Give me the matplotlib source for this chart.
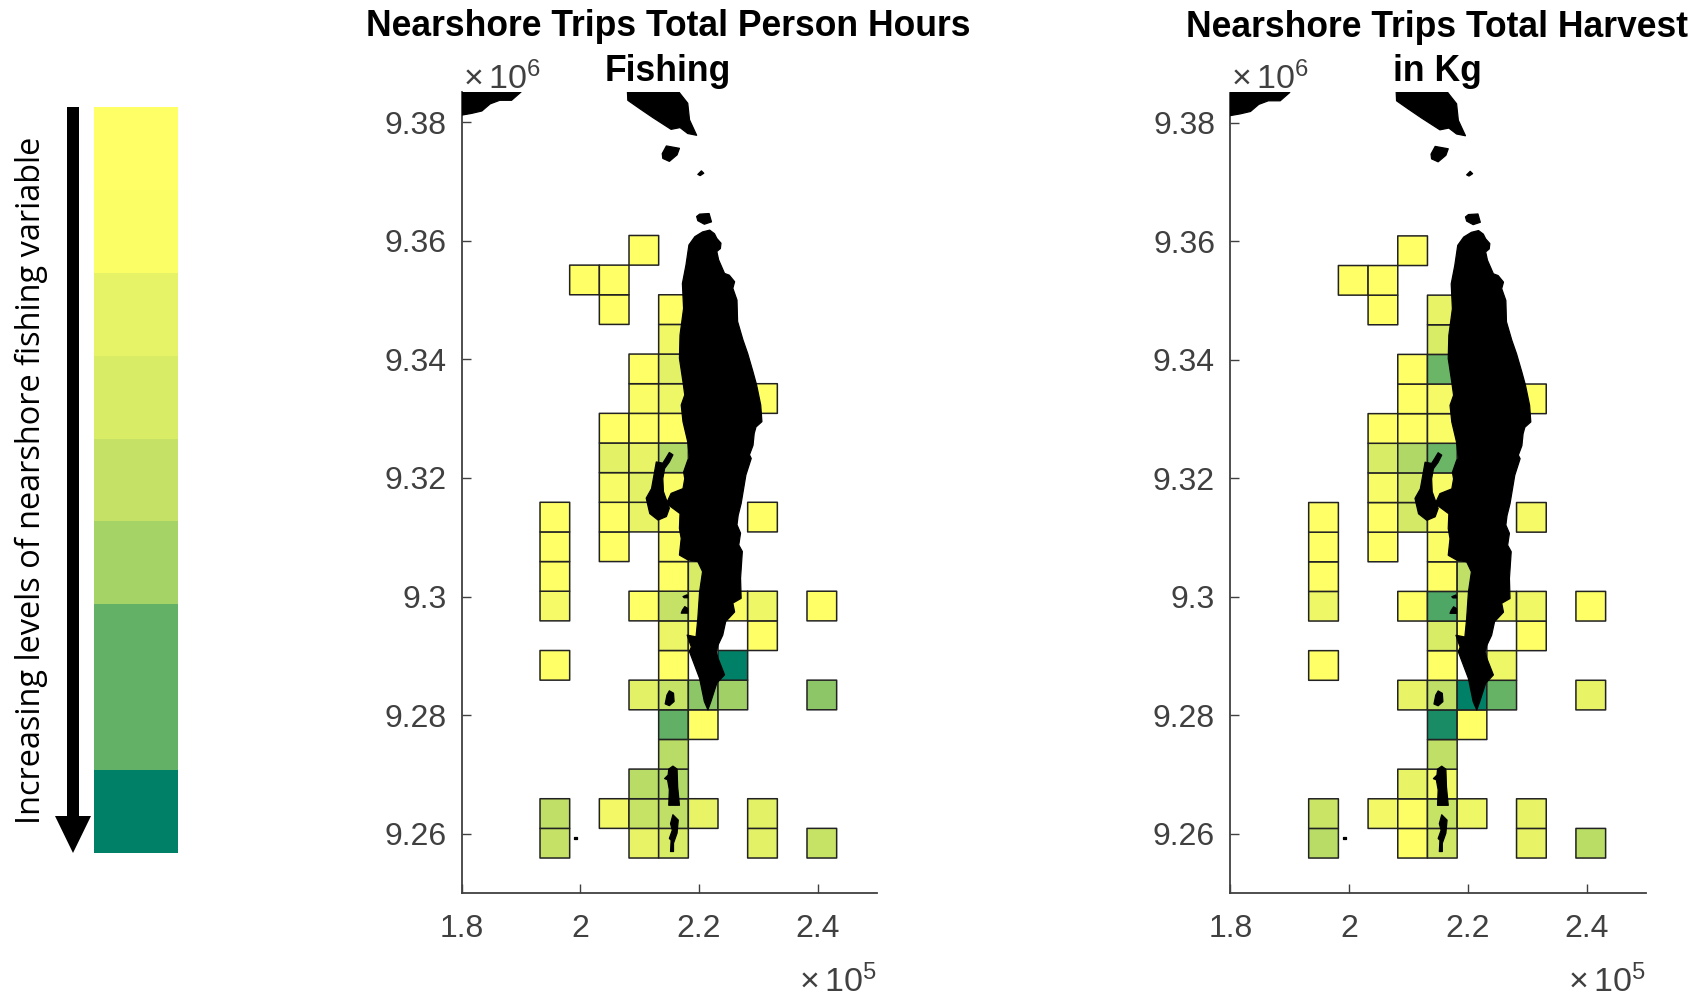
import numpy as np
import matplotlib
matplotlib.use('Agg')
import matplotlib.pyplot as plt
from matplotlib.patches import FancyArrow

plt.rcParams['font.family'] = ['Liberation Sans', 'DejaVu Sans']
plt.rcParams['mathtext.default'] = 'regular'

# grid cells, 5 km wide, column counted from x = 193.2 km and row from y = 9255.9 km
cell_row = [20, 19, 19, 18, 18, 17, 16, 16, 15, 15, 15, 14, 14, 14, 13, 13, 13, 12, 12, 12,
	11, 11, 11, 11, 11, 10, 10, 10, 9, 9, 9, 8, 8, 8, 8, 8, 8, 8, 7, 7, 7, 6, 6, 6,
	5, 5, 5, 5, 5, 4, 4, 3, 2, 2, 1, 1, 1, 1, 1, 1, 0, 0, 0, 0, 0]
cell_col = [3, 1, 2, 2, 4, 4, 3, 4, 3, 4, 7, 2, 3, 4, 2, 3, 4, 2, 3, 4,
	0, 2, 3, 4, 7, 0, 2, 4, 0, 4, 5, 0, 3, 4, 5, 6, 7, 9, 4, 5, 7, 0, 4, 6,
	3, 4, 5, 6, 9, 4, 5, 4, 3, 4, 0, 2, 3, 4, 5, 7, 0, 3, 4, 7, 9]
# relative level of each cell, 0 = lowest, 1 = highest
hours = [0, 0, 0, 0, 0, .06, 0, .11, .02, .07, 0, 0, 0, 0, .11, .09, .31, .03, .11, .02,
	0, 0, .09, .02, 0, 0, 0, .02, 0, 0, .15, .04, 0, .23, .09, .02, .07, 0, .08, 0, 0, 0, 0, 1,
	.11, .22, .45, .37, .45, .62, 0, .28, .28, .31, .25, .05, .22, .25, .09, .11, .23, .09, .15, .11, .22]
harvest = [0, 0, 0, 0, .09, .15, 0, .58, 0, .04, 0, 0, 0, .02, .15, .31, .58, .03, .17, .03,
	0, 0, .17, .02, .04, 0, 0, .02, 0, 0, .25, .07, 0, .69, .15, .06, .06, 0, .15, 0, 0, 0, 0, .07,
	.09, .25, 1, .6, .09, .9, 0, .25, .09, .06, .21, .05, .01, .22, .07, .09, .28, 0, .18, .09, .27]

legend_levels = [0, .015, .1, .15, .23, .35, .61, 1]
legend_steps = [0, 1, 2, 3, 4, 5, 6, 8, 9]

# land outlines in km
main_island = [(221.8, 9361.8), (222.6, 9361.2), (223.0, 9360.4), (223.7, 9359.6), (223.6, 9358.7), (223.0, 9358.2),
	(223.3, 9356.8), (224.3, 9354.5), (225.1, 9354.2), (226.0, 9353.1), (225.7, 9352.0), (226.4, 9350.0),
	(226.5, 9346.4), (227.4, 9343.3), (228.2, 9341.0), (229.1, 9337.9), (229.7, 9335.7), (230.4, 9332.3),
	(230.6, 9329.5), (229.6, 9328.6), (229.3, 9327.5), (229.1, 9325.5), (228.5, 9323.9), (228.8, 9323.3),
	(227.9, 9320.5), (227.1, 9315.7), (226.6, 9313.7), (226.4, 9312.1), (227.0, 9310.7), (226.7, 9308.7),
	(227.3, 9307.6), (227.0, 9303.1), (227.1, 9299.7), (225.7, 9298.9), (226.0, 9297.4), (224.5, 9295.8),
	(224.0, 9293.5), (223.2, 9291.8), (222.9, 9290.7), (223.2, 9289.6), (224.3, 9286.8), (223.0, 9285.4),
	(222.0, 9282.3), (221.5, 9280.9), (220.9, 9282.3), (220.1, 9286.2), (218.4, 9290.7), (218.7, 9291.5),
	(218.0, 9293.5), (219.5, 9293.2), (219.8, 9296.3), (220.1, 9300.8), (220.6, 9304.2), (219.8, 9305.9),
	(218.1, 9306.2), (216.7, 9307.0), (217.0, 9309.8), (216.7, 9311.5), (216.8, 9314.0), (214.5, 9315.7),
	(215.3, 9317.4), (217.3, 9318.2), (217.6, 9319.9), (217.4, 9321.0), (218.1, 9323.0), (218.4, 9323.3),
	(218.1, 9326.1), (217.3, 9329.5), (217.0, 9332.3), (217.6, 9334.0), (217.3, 9336.2), (216.7, 9340.2),
	(216.8, 9344.1), (217.4, 9348.6), (217.2, 9352.8), (217.8, 9355.9), (218.3, 9359.3), (219.3, 9360.7),
	(220.6, 9361.5)]
west_island = [(215.6, 9323.9), (215.0, 9324.3), (214.4, 9323.3), (213.9, 9322.5), (212.8, 9322.7), (212.5, 9321.0),
	(212.0, 9318.2), (211.1, 9316.6), (211.7, 9314.0), (213.1, 9312.9), (214.5, 9313.5), (215.0, 9314.9),
	(214.0, 9317.7), (213.9, 9319.9), (214.2, 9321.6), (215.0, 9322.7)]
islet_a = [(215.0, 9284.1), (215.7, 9283.7), (215.8, 9282.3), (215.0, 9281.6), (214.3, 9281.9), (214.6, 9283.4)]
islet_b = [(217.3, 9300.0), (218.0, 9300.3), (218.1, 9299.8), (217.5, 9299.8)]
islet_c = [(217.6, 9298.3), (218.1, 9298.0), (218.1, 9297.2), (217.0, 9297.2), (217.2, 9297.7)]
south_a = [(215.6, 9271.4), (216.3, 9270.9), (216.4, 9267.9), (216.7, 9264.8), (215.6, 9264.8), (214.9, 9264.8),
	(215.0, 9267.4), (214.7, 9269.1), (214.2, 9269.3), (214.8, 9269.9), (214.9, 9270.9)]
south_b = [(215.6, 9263.2), (216.5, 9262.3), (216.3, 9260.1), (215.7, 9258.4), (215.7, 9257.0), (215.2, 9257.0),
	(215.3, 9258.9), (215.0, 9259.2), (215.5, 9260.6), (215.2, 9261.7)]
dot = [(198.9, 9259.5), (199.5, 9259.5), (199.5, 9259.05), (198.9, 9259.05)]
north_left = [(180.0, 9386), (190.0, 9386), (190.0, 9385.1), (188.4, 9383.7), (186.4, 9383.7), (184.8, 9383.1), (183.4, 9381.9),
	(181.7, 9381.5), (180.0, 9381.2)]
north_mid = [(207.9, 9386), (216.6, 9386), (216.6, 9385.1), (218.1, 9383.2), (218.4, 9380.4), (219.6, 9377.8), (218.1, 9378.1),
	(216.8, 9379.1), (215.3, 9378.8), (212.2, 9380.8), (210.0, 9382.3), (208.0, 9383.7)]
north_blob = [(214.5, 9376.0), (216.7, 9375.6), (216.3, 9374.5), (215.0, 9373.4), (213.9, 9373.9), (213.8, 9374.7)]
north_tiny = [(220.4, 9371.8), (220.8, 9371.4), (220.2, 9371.0), (219.8, 9371.2)]
north_cap = [(220.1, 9364.5), (221.7, 9364.6), (222.1, 9363.2), (220.9, 9362.8), (219.8, 9363.4), (219.6, 9364.1)]
land = [main_island, west_island, islet_a, islet_b, islet_c, south_a, south_b, dot,
	north_left, north_mid, north_blob, north_tiny, north_cap]

x_ticks = [1.8e5, 2e5, 2.2e5, 2.4e5]
x_labels = ['1.8', '2', '2.2', '2.4']
y_ticks = [9.26e6, 9.28e6, 9.30e6, 9.32e6, 9.34e6, 9.36e6, 9.38e6]
y_labels = ['9.26', '9.28', '9.3', '9.32', '9.34', '9.36', '9.38']

W, H = 1696, 998
grey = '#404040'
fig = plt.figure(figsize = (W / 100, H / 100), dpi = 100)

def px_axes(left, right, top, bottom):
	return fig.add_axes([left / W, 1 - bottom / H, (right - left) / W, (bottom - top) / H])

def draw_panel(left, right, top, values, title):
	ax = px_axes(left, right, top, 893)
	grid = np.full((21, 10), np.nan)
	for r, c, v in zip(cell_row, cell_col, values):
		grid[r, c] = v
	x_edges = 193200 + 5000 * np.arange(11)
	y_edges = 9255900 + 5000 * np.arange(22)
	ax.pcolor(x_edges, y_edges, np.ma.masked_invalid(grid), cmap = 'summer_r', vmin = 0, vmax = 1,
		edgecolors = '#222222', linewidth = 1.1)
	for poly in land:
		p = np.array(poly) * 1000
		ax.fill(p[:, 0], p[:, 1], color = 'black', lw = 0.9, joinstyle = 'round', zorder = 3)
	ax.set_xlim(1.8e5, 2.5e5)
	ax.set_ylim(9.25e6, 9.3851e6)
	ax.set_xticks(x_ticks, x_labels)
	ax.set_yticks(y_ticks, y_labels)
	ax.tick_params(direction = 'in', length = 6.5, width = 1.0, color = grey, labelcolor = grey, labelsize = 23, pad = 11)
	ax.tick_params(axis = 'x', pad = 15)
	for side in ['top', 'right']:
		ax.spines[side].set_visible(False)
	for side in ['left', 'bottom']:
		ax.spines[side].set_color(grey)
		ax.spines[side].set_linewidth(1.3)
	ax.set_title(title, fontsize = 25.6, fontweight = 'bold', color = 'black', pad = 8, linespacing = 1.36, x = 0.497)
	ax.text(0.002, 0.995, r'$\times\,10^{6}$', transform = ax.transAxes, ha = 'left', va = 'bottom', fontsize = 24.5, color = grey)
	ax.text(1.0, -0.09, r'$\times\,10^{5}$', transform = ax.transAxes, ha = 'right', va = 'top', fontsize = 24.5, color = grey)
	return ax

draw_panel(461.7, 877, 92, hours, 'Nearshore Trips Total Person Hours\nFishing')
draw_panel(1230.3, 1646, 92.5, harvest, 'Nearshore Trips Total Harvest\nin Kg')

# colour key
key = px_axes(94, 178, 107.4, 852.7)
key.pcolormesh([0, 1], legend_steps, np.array(legend_levels).reshape(-1, 1), cmap = 'summer_r', vmin = 0, vmax = 1)
key.set_ylim(9, 0)
key.axis('off')

over = fig.add_axes([0, 0, 1, 1])
over.set_xlim(0, W)
over.set_ylim(H, 0)
over.axis('off')
over.patch.set_alpha(0)
over.add_patch(FancyArrow(73, 107, 0, 746, width = 12, head_width = 36, head_length = 37,
	length_includes_head = True, color = 'black', lw = 0))
over.text(31, 480, 'Increasing levels of nearshore fishing variable', rotation = 90, ha = 'center', va = 'center',
	fontsize = 23.4, family = 'Open Sans', color = 'black')

fig.savefig('out.png', dpi = 100)
